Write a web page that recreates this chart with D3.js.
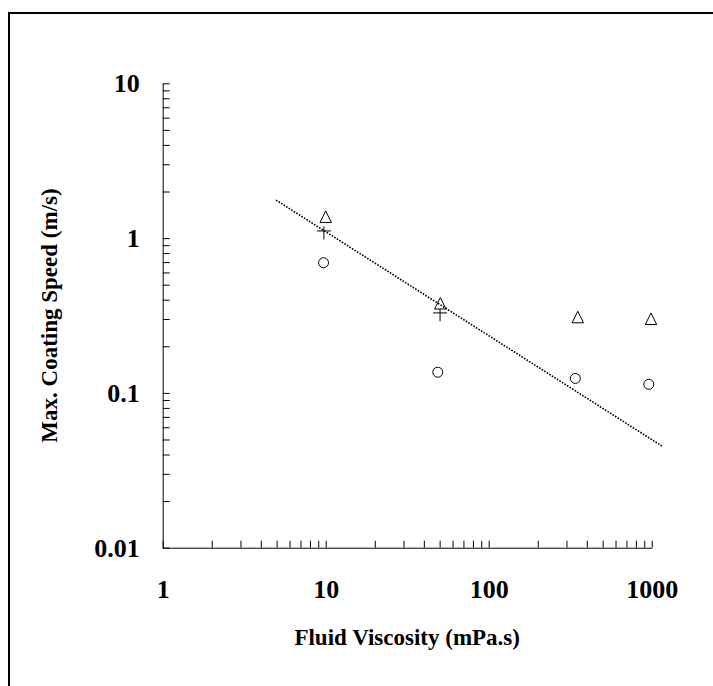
<!DOCTYPE html>
<html>
<head>
<meta charset="utf-8">
<script src="https://cdn.jsdelivr.net/npm/d3@7"></script>
<style>
  body { margin: 0; background: #fff; }
  svg { display: block; }
  .axis text { font-family: "Liberation Serif", "Times New Roman", serif; font-weight: bold; font-size: 26px; fill: #000; }
  .axis path, .axis line { stroke: #000; stroke-width: 1; }
  .title { font-family: "Liberation Serif", "Times New Roman", serif; font-weight: bold; font-size: 23px; fill: #000; }
</style>
</head>
<body>
<div class="chart"></div>
<script>
var WIDTH = 713, HEIGHT = 686;

// tick labels
var xTickLabels = [1, 10, 100, 1000];
var yTickLabels = [0.01, 0.1, 1, 10];

// series: viscosity (mPa.s) vs max coating speed (m/s)
var triViscosity = [10, 50.5, 352, 990];
var triSpeed = [1.37, 0.378, 0.308, 0.300];

var crossViscosity = [9.75, 50.3];
var crossSpeed = [1.08, 0.319];

var circleViscosity = [9.7, 48.7, 340, 960];
var circleSpeed = [0.693, 0.136, 0.124, 0.1137];

// dotted trend line end points
var fitViscosity = [4.96, 1173];
var fitSpeed = [1.76, 0.0449];

var svg = d3.select('.chart').append("svg")
    .attr('width', WIDTH)
    .attr('height', HEIGHT);

// frame (top + left only)
svg.append("path")
    .attr("d", "M9,686V13H713")
    .attr("fill", "none")
    .attr("stroke", "#000")
    .attr("stroke-width", 2);

var xScale = d3.scaleLog()
    .domain([1, 1000])
    .range([162.7, 651.7]);

var yScale = d3.scaleLog()
    .domain([0.01, 10])
    .range([547.7, 83.3]);

var isMajor = function (list) {
    return function (v) {
        return list.some(function (m) { return Math.abs(v / m - 1) < 1e-9; });
    };
};

// x axis
var xAxis = d3.axisBottom(xScale)
    .tickValues(xScale.ticks())
    .tickSize(-7)
    .tickSizeOuter(0)
    .tickPadding(32)
    .tickFormat(function (d) { return isMajor(xTickLabels)(d) ? String(d) : ""; });

svg.append("g")
    .attr("class", "axis")
    .attr("transform", "translate(0," + yScale(0.01) + ")")
    .call(xAxis);

// y axis
var yAxis = d3.axisLeft(yScale)
    .tickValues(yScale.ticks())
    .tickSize(-7)
    .tickSizeOuter(0)
    .tickPadding(23)
    .tickFormat(function (d) { return isMajor(yTickLabels)(d) ? String(d) : ""; });

svg.append("g")
    .attr("class", "axis")
    .attr("transform", "translate(" + xScale(1) + ",0)")
    .call(yAxis);

svg.selectAll(".axis text").attr("font-family", null).attr("font-size", null);

// titles
svg.append("text")
    .attr("class", "title")
    .attr("x", (xScale(1) + xScale(1000)) / 2)
    .attr("y", 645)
    .attr("text-anchor", "middle")
    .text("Fluid Viscosity (mPa.s)");

svg.append("text")
    .attr("class", "title")
    .attr("transform", "translate(57," + ((yScale(10) + yScale(0.01)) / 2) + ") rotate(-90)")
    .attr("text-anchor", "middle")
    .text("Max. Coating Speed (m/s)");

// dotted fit line
var line = d3.line()
    .x(function (d) { return xScale(d[0]); })
    .y(function (d) { return yScale(d[1]); });

svg.append("path")
    .datum(d3.zip(fitViscosity, fitSpeed))
    .attr("d", line)
    .attr("fill", "none")
    .attr("stroke", "#000")
    .attr("stroke-width", 1.6)
    .attr("stroke-dasharray", "1.6,1.4");

// circles
svg.append("g").selectAll("circle")
    .data(d3.zip(circleViscosity, circleSpeed))
    .enter()
    .append("circle")
    .attr("cx", function (d) { return xScale(d[0]); })
    .attr("cy", function (d) { return yScale(d[1]); })
    .attr("r", 5)
    .attr("fill", "none")
    .attr("stroke", "#000")
    .attr("stroke-width", 1);

// triangles
svg.append("g").selectAll("path")
    .data(d3.zip(triViscosity, triSpeed))
    .enter()
    .append("path")
    .attr("transform", function (d) {
        return "translate(" + xScale(d[0]) + "," + yScale(d[1]) + ")";
    })
    .attr("d", "M0,-6L5.7,5.5H-5.7Z")
    .attr("fill", "none")
    .attr("stroke", "#000")
    .attr("stroke-width", 1);

// crosses
svg.append("g").selectAll("path")
    .data(d3.zip(crossViscosity, crossSpeed))
    .enter()
    .append("path")
    .attr("transform", function (d) {
        return "translate(" + xScale(d[0]) + "," + yScale(d[1]) + ")";
    })
    .attr("d", "M-7,-2H7M0,-6.5V6.5")
    .attr("fill", "none")
    .attr("stroke", "#000")
    .attr("stroke-width", 1);
</script>
</body>
</html>
